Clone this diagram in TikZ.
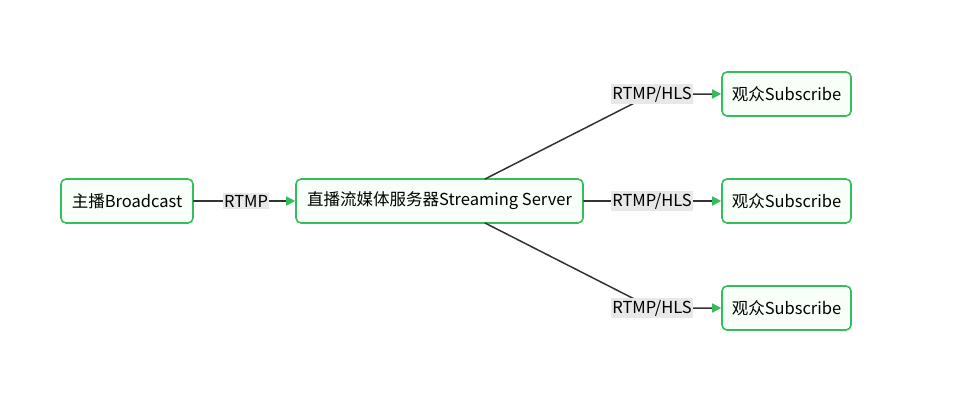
\documentclass[tikz,border=0pt]{standalone}
\usepackage{fontspec}
\setmainfont{Noto Sans CJK SC}
\usetikzlibrary{arrows.meta}

\definecolor{boxgreen}{HTML}{34BE5B}
\definecolor{boxfill}{HTML}{F8FFF9}
\definecolor{edgegray}{HTML}{333333}
\definecolor{lblgray}{HTML}{E8E8E8}

\begin{document}
\begin{tikzpicture}[x=1pt,y=-1pt,line cap=round,line join=round,
    >={Triangle[length=9pt,width=9pt,color=boxgreen]}]
\tikzset{
    box/.style=  {draw=boxgreen, fill=boxfill, line width=1.6pt, rounded corners=5pt,
                  minimum height=44pt, inner xsep=8pt, font=\fontsize{16.5}{19}\selectfont},
    lbl/.style=  {fill=lblgray, inner sep=1.5pt, font=\fontsize{16.5}{19}\selectfont},
    edge/.style= {draw=edgegray, line width=1.5pt}
}
%% Canvas
\useasboundingbox (0,0) rectangle (968,407);

%% Boxes
\node[box, minimum width=132pt] (bcast)  at (127,201)   {主播Broadcast};
\node[box, minimum width=287pt] (server) at (439.5,201) {直播流媒体服务器Streaming Server};
\node[box, minimum width=129pt] (subA)   at (786.5,94)  {观众Subscribe};
\node[box, minimum width=129pt] (subB)   at (786.5,201) {观众Subscribe};
\node[box, minimum width=129pt] (subC)   at (786.5,308) {观众Subscribe};

%% Bend points of the fan-out
\coordinate (outA) at (485,179);
\coordinate (outC) at (485,223);
\coordinate (kA) at (652,94);
\coordinate (kC) at (652,308);

%% Edges
\draw[edge,->] (bcast) -- (server);
\draw[edge,->] (server) -- (subB);
\draw[edge,->] (outA) -- (kA) -- (subA);
\draw[edge,->] (outC) -- (kC) -- (subC);

%% Edge labels
\node[lbl] (lRtmp) at (246,201)  {RTMP};
\node[lbl] (lA)    at (652,94)   {RTMP/HLS};
\node[lbl] (lB)    at (652,201)  {RTMP/HLS};
\node[lbl] (lC)    at (652,308)  {RTMP/HLS};

\end{tikzpicture}
\end{document}
